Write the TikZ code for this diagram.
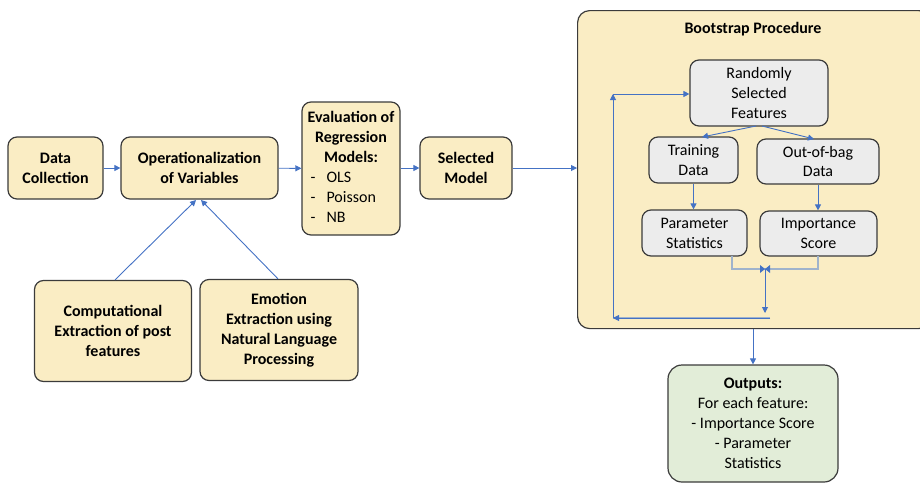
\documentclass[tikz,border=0pt]{standalone}
\usepackage{fontspec}
\setmainfont{Carlito}
\usetikzlibrary{arrows.meta}
\definecolor{tanc}{HTML}{FAEDC4}
\definecolor{grayc}{HTML}{ECECEC}
\definecolor{greenc}{HTML}{E2EDD8}
\definecolor{bordc}{HTML}{3B3B3B}
\definecolor{arrc}{HTML}{4472C4}
\definecolor{linc}{HTML}{9FB3CC}
\newcommand\bxf{\fontsize{16}{20}\selectfont}
\tikzset{
  box/.style={draw=bordc, line width=1.2pt, rounded corners=9pt, fill=tanc, align=center, inner sep=2pt,
     font=\bxf},
  bbox/.style={box, font=\bxf\bfseries},
  gbox/.style={box, fill=grayc},
  obox/.style={box, fill=greenc, rounded corners=14pt},
  arr/.style={draw=arrc, line width=0.9pt, -{Triangle[length=6pt,width=6pt]}},
  larr/.style={draw=linc, line width=1.4pt},
}
\begin{document}
\begin{tikzpicture}[x=1pt,y=-1pt]
\useasboundingbox (0,0) rectangle (920,482);
% big bootstrap box
\node[draw=bordc, line width=1.2pt, rounded corners=12pt, fill=tanc, minimum width=353pt, minimum height=318pt,
  anchor=north west, inner sep=0pt] (boot) at (577,10) {};
\node[font=\bxf\bfseries] (btitle) at (753,29) {Bootstrap Procedure};

\node[bbox, minimum width=95pt, minimum height=62pt] (dc) at (55.5,168) {Data\\Collection};
\node[bbox, minimum width=157pt, minimum height=62pt] (op) at (199.5,168) {Operationalization\\of Variables};
\node[box, minimum width=98pt, minimum height=133pt] (ev) at (351,168.5)
  {\begin{tabular}{@{}l@{}}
   \multicolumn{1}{@{}c@{}}{\bfseries Evaluation of}\\
   \multicolumn{1}{@{}c@{}}{\bfseries Regression}\\
   \multicolumn{1}{@{}c@{}}{\bfseries Models:}\\
   \hspace*{3pt}-\hspace{11pt}OLS\\
   \hspace*{3pt}-\hspace{11pt}Poisson\\
   \hspace*{3pt}-\hspace{11pt}NB
   \end{tabular}};
\node[bbox, minimum width=92pt, minimum height=62pt] (sm) at (466,168) {Selected\\Model};
\node[bbox, minimum width=157pt, minimum height=101pt] (ce) at (113,331) {Computational\\Extraction of post\\features};
\node[bbox, minimum width=158pt, minimum height=101pt] (ee) at (279,330) {Emotion\\Extraction using\\Natural Language\\Processing};

\node[gbox, minimum width=138pt, minimum height=66pt] (rsf) at (759,93) {Randomly\\Selected\\Features};
\node[gbox, minimum width=89pt, minimum height=46pt] (td) at (693.5,160) {Training\\Data};
\node[gbox, minimum width=122pt, minimum height=45pt] (oob) at (818,161.5) {Out-of-bag\\Data};
\node[gbox, minimum width=105pt, minimum height=46pt] (ps) at (694.5,233) {Parameter\\Statistics};
\node[gbox, minimum width=117pt, minimum height=45pt] (is) at (818.5,233.5) {Importance\\Score};

\node[obox, minimum width=170pt, minimum height=117pt] (out) at (753,423.5)
  {\textbf{Outputs:}\\For each feature:\\- Importance Score\\- Parameter\\Statistics};

% main flow
\draw[arr] (dc) -- (op);
\draw[arr] (op) -- (ev);
\draw[arr] (ev.east |- sm) -- (sm);
\draw[arr] (sm) -- (boot.west |- sm);
\draw[arr] (ce.north -| 115,0) -- (196,200);
\draw[arr] (ee.north -| 278,0) -- (201,200);

% bootstrap internals
\coordinate (rsfb1) at (756,126);
\coordinate (rsfb2) at (762,126);
\draw[arr] (rsfb1) -- (702,137);
\draw[arr] (rsfb2) -- (814,139);
\draw[arr] (td.south) -- (td.south |- ps.north);
\draw[arr] (oob.south) -- (oob.south |- is.north);
\coordinate (merge) at (765,269);
\draw[larr] (732,256) |- (merge);
\draw[larr] (818,256) |- (merge);
\fill[arrc] (merge) ++(-5,-4) -- ++(5,4) -- ++(-5,4) -- cycle;
\fill[arrc] (merge) ++(5,-4) -- ++(-5,4) -- ++(5,4) -- cycle;
\coordinate (low) at (765,313);
\draw[arr] (merge) -- (low);
\coordinate (br) at (770,318);
\coordinate (bl) at (613,318);
\draw[larr] (br) -- (bl);
\draw[arr] (br) -- (bl);
\coordinate (tl) at (613,94);
\draw[arr] (bl) -- (tl);
\draw[arr] (tl) -- (rsf.west |- tl);

\draw[arr] (boot.south -| out.north) -- (out.north);
\end{tikzpicture}
\end{document}
